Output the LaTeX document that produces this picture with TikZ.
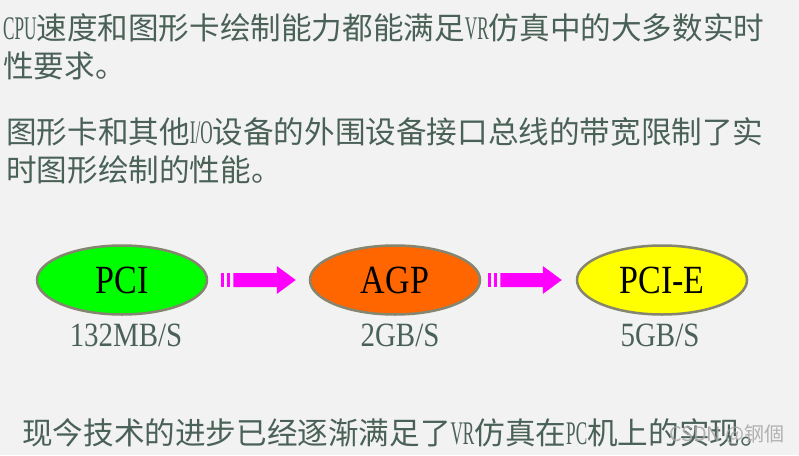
\documentclass[tikz,border=0pt]{standalone}
\usepackage{fontspec}
\usetikzlibrary{shapes.geometric,calc}
\setmainfont{Liberation Serif}
\newfontfamily\cjkfont{Noto Sans CJK SC}
\newfontfamily\narrowlat[FakeStretch=0.52]{Liberation Serif}
\newfontfamily\midlat[FakeStretch=0.85]{Liberation Serif}
\newcommand\lat[1]{{\narrowlat\fontsize{33}{36}\selectfont #1}}
\definecolor{bgcol}{HTML}{F2F2F2}
\definecolor{txtcol}{HTML}{4A6157}
\definecolor{rimcol}{HTML}{858570}
\definecolor{arrcol}{HTML}{FF00FF}
\newcommand\stripedarrow[2]{%
  \fill[arrcol] ([shift={(0,-7)}]#1) rectangle ([shift={(3,7)}]#1);
  \fill[arrcol] ([shift={(6,-7)}]#1) rectangle ([shift={(9,7)}]#1);
  \fill[arrcol] ([shift={(12,-7)}]#1) -- ([shift={(-19,-7)}]#2) -- ([shift={(-19,-14)}]#2) -- (#2)
     -- ([shift={(-19,14)}]#2) -- ([shift={(-19,7)}]#2) -- ([shift={(12,7)}]#1) -- cycle;
}
\tikzset{
  txt/.style={anchor=west, inner sep=0pt, text=txtcol, font=\cjkfont\fontsize{30.6}{36}\selectfont},
  bus/.style={ellipse, draw=rimcol, line width=2.5pt, minimum width=170pt, minimum height=69pt,
              inner sep=0pt, font=\midlat\fontsize{40}{44}\selectfont, text=black},
  lab/.style={inner sep=0pt, text=txtcol, font=\midlat\fontsize{34}{38}\selectfont},
  wm/.style={anchor=east, inner sep=0pt, text=gray!70, opacity=0.85, font=\cjkfont\fontsize{20}{24}\selectfont}
}
\begin{document}
\begin{tikzpicture}[x=1pt,y=-1pt]
\fill[bgcol] (0,0) rectangle (799,455);
\useasboundingbox (0,0) rectangle (799,455);

\node[txt] (l1) at (3,28) {\lat{CPU}速度和图形卡绘制能力都能满足\lat{VR}仿真中的大多数实时};
\node[txt] (l2) at (3,66) {性要求。};
\node[txt] (l3) at (6,132) {图形卡和其他\lat{I/O}设备的外围设备接口总线的带宽限制了实};
\node[txt] (l4) at (6,170) {时图形绘制的性能。};

\node[bus, fill={rgb,255:red,0;green,255;blue,0}] (pci) at (122,280) {PCI};
\node[bus, fill={rgb,255:red,255;green,102;blue,0}] (agp) at (395,280) {AGP};
\node[bus, fill={rgb,255:red,255;green,255;blue,0}] (pcie) at (662,280) {PCI-E};

\node[lab] (pcil) at (126,335) {132MB/S};
\node[lab] (agpl) at (400,335) {2GB/S};
\node[lab] (pciel) at (660,335) {5GB/S};

\coordinate (a1s) at ([xshift=13pt]pci.east);
\coordinate (a1e) at ([xshift=-13pt]agp.west);
\coordinate (a2s) at ([xshift=7pt]agp.east);
\coordinate (a2e) at ([xshift=-14pt]pcie.west);
\stripedarrow{a1s}{a1e}
\stripedarrow{a2s}{a2e}

\node[txt] (l5) at (22,433) {现今技术的进步已经逐渐满足了\lat{VR}仿真在\lat{PC}机上的实现。};
\node[wm] (wmk) at (785,435) {CSDN @钢個};
\end{tikzpicture}
\end{document}
